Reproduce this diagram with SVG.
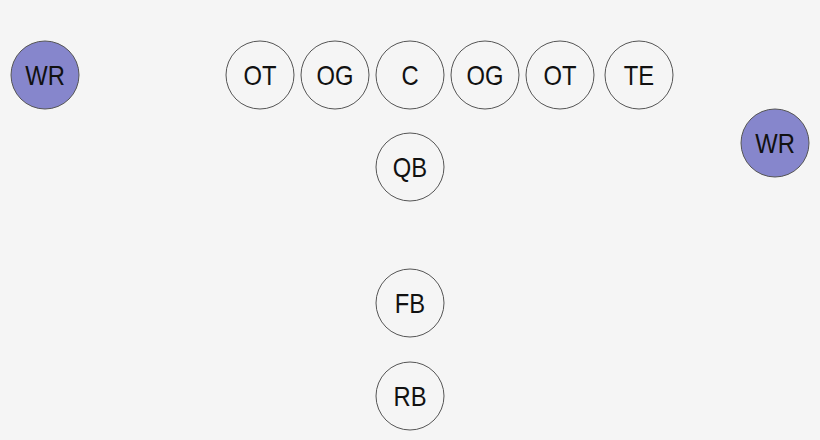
<svg xmlns="http://www.w3.org/2000/svg" width="820" height="440" viewBox="0 0 820 440">
<style>
.n{fill:#f5f5f5;stroke:#555;stroke-width:1}
.wr{fill:#8686cc;stroke:#555;stroke-width:1}
text{font-family:"Liberation Sans",Arial,sans-serif;font-size:27px;fill:#111;text-anchor:middle}
</style>
<rect width="820" height="440" fill="#f5f5f5"/>
<g id="connectors"/>
<g id="wr-left"><circle class="wr" cx="45" cy="75" r="34"/><text transform="translate(45,84.5) scale(0.88,1)">WR</text></g>
<g id="ot-left"><circle class="n" cx="260" cy="75" r="34"/><text transform="translate(260,84.5) scale(0.88,1)">OT</text></g>
<g id="og-left"><circle class="n" cx="335" cy="75" r="34"/><text transform="translate(335,84.5) scale(0.88,1)">OG</text></g>
<g id="c"><circle class="n" cx="410" cy="75" r="34"/><text transform="translate(410,84.5) scale(0.88,1)">C</text></g>
<g id="og-right"><circle class="n" cx="485" cy="75" r="34"/><text transform="translate(485,84.5) scale(0.88,1)">OG</text></g>
<g id="ot-right"><circle class="n" cx="560" cy="75" r="34"/><text transform="translate(560,84.5) scale(0.88,1)">OT</text></g>
<g id="te"><circle class="n" cx="639" cy="75" r="34"/><text transform="translate(639,84.5) scale(0.88,1)">TE</text></g>
<g id="wr-right"><circle class="wr" cx="775" cy="143" r="34"/><text transform="translate(775,152.5) scale(0.88,1)">WR</text></g>
<g id="qb"><circle class="n" cx="410" cy="167" r="34"/><text transform="translate(410,176.5) scale(0.88,1)">QB</text></g>
<g id="fb"><circle class="n" cx="410" cy="303" r="34"/><text transform="translate(410,312.5) scale(0.88,1)">FB</text></g>
<g id="rb"><circle class="n" cx="410" cy="396" r="34"/><text transform="translate(410,405.5) scale(0.88,1)">RB</text></g>
</svg>
